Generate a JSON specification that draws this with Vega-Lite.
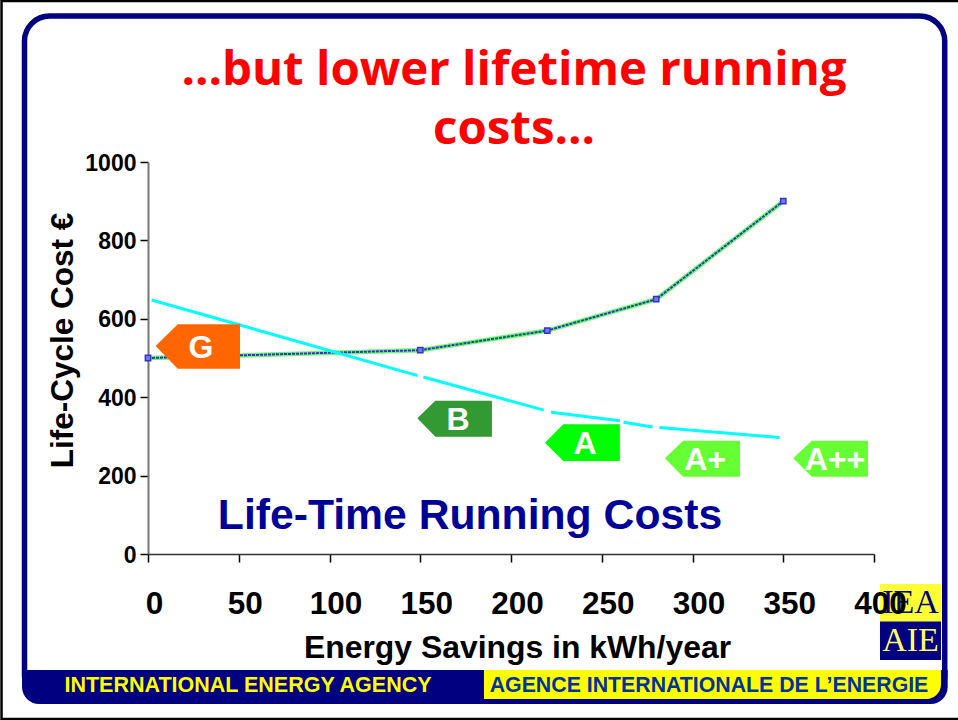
{
"$schema":"https://vega.github.io/schema/vega-lite/v6.json",
"width":726,"height":392,
"autosize":"none",
"padding":{"left":148,"top":162,"right":84,"bottom":166},
"background":"white",
"title":{"text":["…but lower lifetime running","costs…"],"font":"Open Sans","fontWeight":"bold","fontSize":47.4,"lineHeight":59,"color":"#ff0000","anchor":"middle","dx":3,"offset":-155},
"config":{"view":{"stroke":null},"font":"Liberation Sans"},
"resolve":{"scale":{"color":"independent"}},
"encoding":{
 "x":{"field":"x","type":"quantitative","scale":{"domain":[0,400],"nice":false,"zero":false},
  "axis":{"title":"Energy Savings in kWh/year","titleFont":"Liberation Sans","titleFontWeight":"bold","titleFontSize":31.9,"titleColor":"#000000","titleX":369,"titleY":93,"titleBaseline":"middle",
   "values":[0,50,100,150,200,250,300,350,400],"labelFont":"Liberation Sans","labelFontWeight":"bold","labelFontSize":31.5,"labelColor":"#000000","labelOffset":6,"labelPadding":26,"labelOverlap":false,"labelFlush":false,"labelBound":false,"tickSize":8,"tickColor":"#000000","tickWidth":1.5,"domainColor":"#333333","domainWidth":1.5,"grid":false,"zindex":1}},
 "y":{"field":"y","type":"quantitative","scale":{"domain":[0,1000],"nice":false,"zero":false},
  "axis":{"title":"Life-Cycle Cost €","titleFont":"Liberation Sans","titleFontWeight":"bold","titleFontSize":31.5,"titleColor":"#000000","titleX":-85,"titleY":178,"titleAngle":-90,"titleBaseline":"middle","format":"d",
   "values":[0,200,400,600,800,1000],"labelFont":"Liberation Sans","labelFontWeight":"bold","labelFontSize":23,"labelColor":"#000000","labelPadding":4,"labelOffset":1,"labelOverlap":false,"labelFlush":false,"labelBound":false,"tickSize":8,"tickColor":"#000000","tickWidth":1.5,"domainColor":"#777777","domainWidth":2,"grid":false,"zindex":0}}
},
"layer":[
 {"data":{"values":[{"x":-80.7,"x2":447.4,"y":1410.7,"y2":-420.9}]},
  "mark":{"type":"rect","fill":"transparent","stroke":"#000000","strokeWidth":2.5,"clip":false},
  "encoding":{"x2":{"field":"x2"},"y2":{"field":"y2"}}},
 {"data":{"values":[{"x":-68.04,"x2":438.96,"y":1372.4,"y2":-375}]},
  "mark":{"type":"rect","fill":"transparent","stroke":"#000080","strokeWidth":5.5,"cornerRadius":25},
  "encoding":{"x2":{"field":"x2"},"y2":{"field":"y2"}}},
 {"data":{"values":[{"x":-69.4,"x2":440.6,"y":-295.9,"y2":-382.7}]},
  "mark":{"type":"rect","fill":"#000080","cornerRadiusBottomLeft":28,"cornerRadiusBottomRight":28},
  "encoding":{"x2":{"field":"x2"},"y2":{"field":"y2"}}},
 {"data":{"values":[{"x":185.1,"x2":436.9,"y":-295.9,"y2":-369.9}]},
  "mark":{"type":"rect","fill":"#ffff00","cornerRadiusBottomRight":24},
  "encoding":{"x2":{"field":"x2"},"y2":{"field":"y2"}}},
 {"data":{"values":[{"x":403.3,"x2":436.9,"y":-76.5,"y2":-172.2,"part":"yellow"},{"x":403.3,"x2":436.9,"y":-172.2,"y2":-270.4,"part":"navy"}]},
  "mark":{"type":"rect"},
  "encoding":{"x2":{"field":"x2"},"y2":{"field":"y2"},"color":{"field":"part","scale":{"domain":["yellow","navy"],"range":["#ffff33","#000080"]},"legend":null}}},
 {"data":{"values":[{"x":420.1,"y":-125,"label":"IEA"}]},
  "mark":{"type":"text","font":"Liberation Serif","fontSize":34,"color":"#000080","align":"center","baseline":"middle"},
  "encoding":{"text":{"field":"label"}}},
 {"data":{"values":[{"x":420.1,"y":-221.9,"label":"AIE"}]},
  "mark":{"type":"text","font":"Liberation Serif","fontSize":34,"color":"#ffff66","align":"center","baseline":"middle"},
  "encoding":{"text":{"field":"label"}}},
 {"data":{"name":"cost","values":[{"x":0,"y":500},{"x":150,"y":520},{"x":220,"y":570},{"x":280,"y":650},{"x":350,"y":900}]},
  "mark":{"type":"line","color":"#66ff66","strokeWidth":4.5}},
 {"data":{"name":"cost"},
  "mark":{"type":"line","color":"#3333bb","strokeWidth":2,"strokeDash":[3,1]}},
 {"data":{"name":"cost"},
  "mark":{"type":"point","shape":"square","size":28,"filled":true,"fill":"#7777ee","stroke":"#3333cc","strokeWidth":1.5,"opacity":1}},
 {"data":{"values":[
   {"seg":1,"x":2,"y":648},{"seg":1,"x":148.5,"y":455},
   {"seg":2,"x":151.7,"y":451.5},{"seg":2,"x":218,"y":367},
   {"seg":3,"x":222,"y":361.4},{"seg":3,"x":260,"y":340},
   {"seg":4,"x":262,"y":336},{"seg":4,"x":278,"y":324},
   {"seg":5,"x":281.7,"y":323},{"seg":5,"x":348,"y":297}]},
  "mark":{"type":"line","color":"#00ffff","strokeWidth":3},
  "encoding":{"detail":{"field":"seg"}}},
 {"data":{"values":[
   {"tag":"G","x":4.2,"y":530.6,"y2":530.6},{"tag":"G","x":16.4,"y":586,"y2":472.7},{"tag":"G","x":50.7,"y":586,"y2":472.7},
   {"tag":"B","x":148.4,"y":346.2,"y2":346.2},{"tag":"B","x":158.3,"y":391,"y2":299.2},{"tag":"B","x":189.5,"y":391,"y2":299.2},
   {"tag":"A","x":218.7,"y":283.9,"y2":283.9},{"tag":"A","x":228.8,"y":330.9,"y2":237.2},{"tag":"A","x":260,"y":330.9,"y2":237.2},
   {"tag":"A+","x":284.8,"y":244.1,"y2":244.1},{"tag":"A+","x":294.8,"y":289,"y2":197.2},{"tag":"A+","x":326.2,"y":289,"y2":197.2},
   {"tag":"A++","x":355.5,"y":244.1,"y2":244.1},{"tag":"A++","x":365.7,"y":289,"y2":197.2},{"tag":"A++","x":396.7,"y":289,"y2":197.2}]},
  "mark":{"type":"area","opacity":1},
  "encoding":{"y2":{"field":"y2"},"color":{"field":"tag","scale":{"domain":["G","B","A","A+","A++"],"range":["#ff6600","#339933","#00ff00","#66ff33","#66ff33"]},"legend":null}}},
 {"data":{"values":[{"x":29.2,"y":525.5,"label":"G"},{"x":170.8,"y":341.9,"label":"B"},{"x":240.8,"y":280.7,"label":"A"},{"x":306.9,"y":239.8,"label":"A+"},{"x":378.5,"y":239.8,"label":"A++"}]},
  "mark":{"type":"text","font":"Liberation Sans","fontWeight":"bold","fontSize":32,"color":"#ffffff","align":"center","baseline":"middle"},
  "encoding":{"text":{"field":"label"}}},
 {"data":{"values":[{"x":177.4,"y":97,"label":"Life-Time Running Costs"}]},
  "mark":{"type":"text","font":"Liberation Sans","fontWeight":"bold","fontSize":42.7,"color":"#000099","align":"center","baseline":"middle"},
  "encoding":{"text":{"field":"label"}}},
 {"data":{"values":[{"x":55.1,"y":-337.8,"label":"INTERNATIONAL ENERGY AGENCY"}]},
  "mark":{"type":"text","font":"Liberation Sans","fontWeight":"bold","fontSize":21.5,"color":"#ffff00","align":"center","baseline":"middle"},
  "encoding":{"text":{"field":"label"}}},
 {"data":{"values":[{"x":309.1,"y":-337.8,"label":"AGENCE INTERNATIONALE DE L’ENERGIE"}]},
  "mark":{"type":"text","font":"Liberation Sans","fontWeight":"bold","fontSize":21.3,"color":"#003399","align":"center","baseline":"middle"},
  "encoding":{"text":{"field":"label"}}}
]
}
